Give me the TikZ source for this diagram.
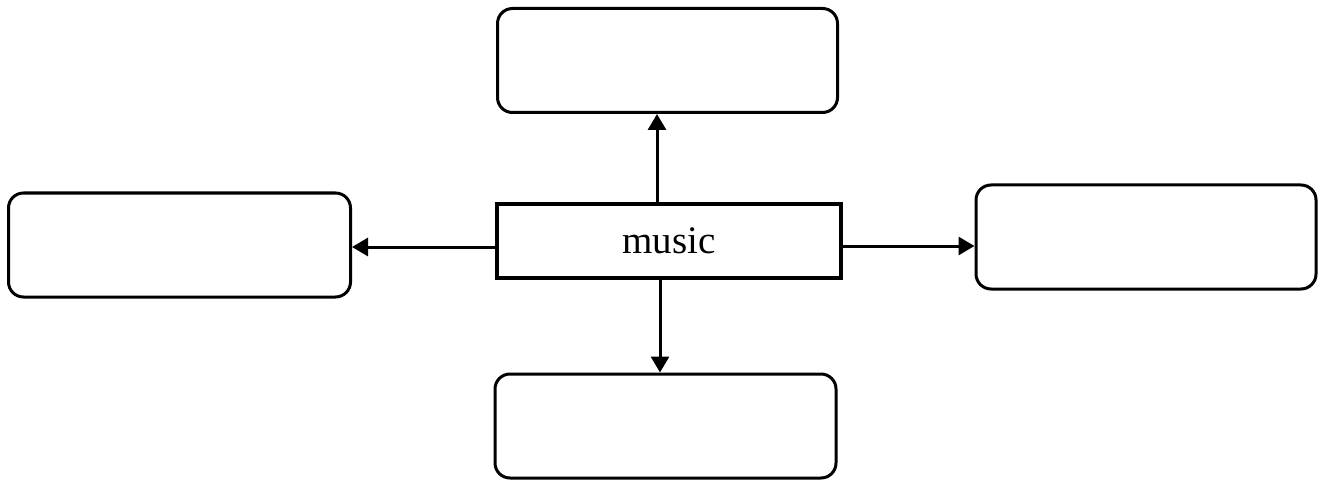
\documentclass[tikz,border=0pt]{standalone}
\usepackage{fontspec}
\setmainfont{Liberation Serif}
\usetikzlibrary{arrows.meta}
\begin{document}
\begin{tikzpicture}[x=1pt,y=-1pt,
  roundbox/.style={draw,line width=3pt,rounded corners=15pt,inner sep=0pt,minimum width=#1,minimum height=104pt},
  mainbox/.style={draw,line width=4pt,inner sep=0pt,minimum width=344pt,minimum height=74pt,font=\fontsize{39}{41}\selectfont},
  arr/.style={line width=3pt,-{Triangle[length=16pt,width=18pt]}}]
\useasboundingbox (0,0) rectangle (1324,481);
\node[roundbox=340pt] (t) at (667.5,60.5) {};
\node[roundbox=342pt] (l) at (179.5,245) {};
\node[roundbox=340pt] (r) at (1146,237) {};
\node[roundbox=341pt] (b) at (665.5,426) {};
\node[mainbox] (c) at (669,241) {music};
\draw[arr] ([xshift=-12pt]c.north) -- ([xshift=-12pt]c.north |- t.south);
\draw[arr] ([xshift=-9pt]c.south) -- ([xshift=-9pt]c.south |- b.north);
\draw[arr] ([yshift=-6pt]c.west) -- ([yshift=-6pt]c.west -| l.east);
\draw[arr] ([yshift=-5pt]c.east) -- ([yshift=-5pt]c.east -| r.west);
\end{tikzpicture}
\end{document}
